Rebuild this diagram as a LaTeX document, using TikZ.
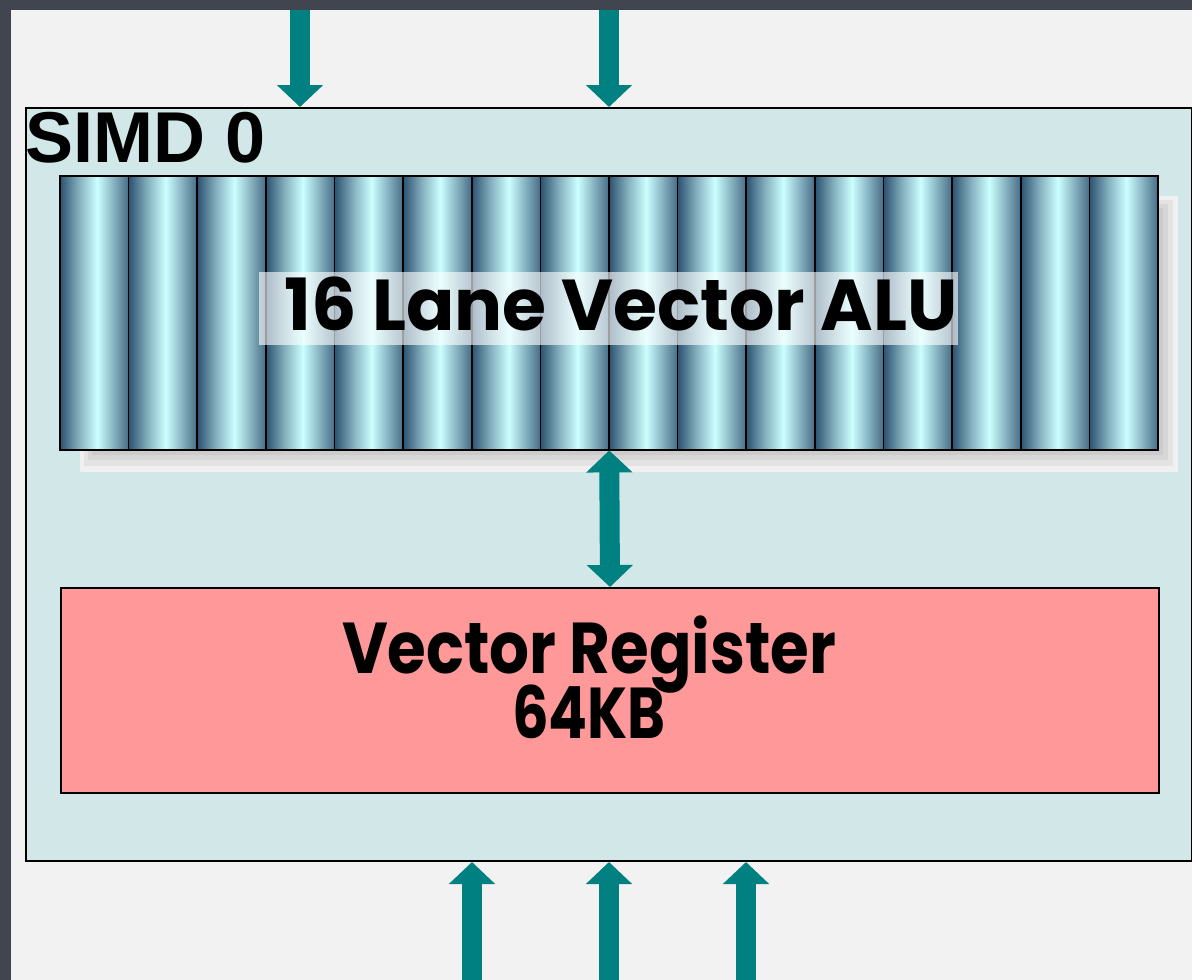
\documentclass[tikz,border=0pt]{standalone}
\usepackage{fontspec}
\newfontfamily\gothic{Poppins}
\newfontfamily\arialfont{Liberation Sans}
\usetikzlibrary{arrows.meta}
\definecolor{bgdark}{HTML}{41454F}
\definecolor{panelgray}{HTML}{F2F2F2}
\definecolor{simdfill}{HTML}{D1E7E8}
\definecolor{arrowteal}{HTML}{008080}
\definecolor{regfill}{HTML}{FF9999}
\definecolor{lanedark}{HTML}{2C5270}
\definecolor{lanemid}{HTML}{86B2C0}
\definecolor{lanelight}{HTML}{CCFFFF}
\definecolor{laneright}{HTML}{466C86}
\pgfdeclarehorizontalshading{lane}{100bp}{color(0bp)=(lanedark); color(25bp)=(lanedark); color(39bp)=(lanemid); color(52bp)=(lanelight); color(64bp)=(lanemid); color(75bp)=(laneright); color(100bp)=(laneright)}
\tikzset{
  blockarrow/.style={draw=arrowteal, line width=20pt, -{Triangle[width=45pt,length=22pt]}},
  dblarrow/.style={draw=arrowteal, line width=20pt, {Triangle[width=45pt,length=22pt]}-{Triangle[width=45pt,length=22pt]}},
  boxnode/.style={draw=black, line width=2pt, inner sep=0pt, anchor=north west},
  gothictext/.style={inner sep=0pt, anchor=base, font=\gothic\bfseries\fontsize{72}{72}\selectfont}
}
\begin{document}
\begin{tikzpicture}[x=1pt,y=-1pt]
\useasboundingbox (0,0) rectangle (1192,980);
\fill[bgdark] (0,0) rectangle (1192,980);
\fill[panelgray] (11,10) rectangle (1192,980);

% SIMD box
\node[boxnode, fill=simdfill, minimum width=1166pt, minimum height=753pt] (simd) at (25,107) {};
\node[anchor=base west, inner sep=0pt, font=\arialfont\bfseries\fontsize{72}{72}\selectfont] (simdlabel) at (25,162) {SIMD 0};

% shadow behind ALU
\fill[gray!12] (80,196) rectangle (1178,472);
\fill[gray!22] (84,200) rectangle (1173,466);
\fill[gray!32] (88,204) rectangle (1168,460);
\fill[gray!40] (92,208) rectangle (1163,455);

% ALU lanes
\node[inner sep=0pt, anchor=north west, minimum width=1098pt, minimum height=274pt] (alu) at (60,176) {};
\foreach \i in {0,...,15} {
  \pgfmathsetmacro\xa{60+\i*68.625}
  \pgfmathsetmacro\xb{60+(\i+1)*68.625}
  \shadedraw[shading=lane, draw=black, line width=1.6pt] (\xa,176) rectangle (\xb,450);
}
\node[fill=white, fill opacity=0.62, minimum width=699pt, minimum height=73pt, inner sep=0pt] (alulabel) at (608.5,308.5) {};
\node[gothictext] (alutext) at (621,330) {\scalebox{0.99}[1]{16 Lane Vector ALU}};

% Vector register
\node[boxnode, fill=regfill, minimum width=1098pt, minimum height=205pt] (reg) at (60,587) {};
\node[gothictext] (regtext) at (589,673) {\scalebox{0.87}[1]{Vector Register}};
\node[gothictext] (regsize) at (589,738) {\scalebox{0.8}[1]{64KB}};

% arrows
\coordinate (t1) at (300,10);
\coordinate (t2) at (609,10);
\draw[blockarrow] (t1) -- (t1 |- simd.north);
\draw[blockarrow] (t2) -- (t2 |- simd.north);
\draw[dblarrow] (alu.south) -- (reg.north);
\coordinate (b1) at (472,980);
\coordinate (b2) at (609,980);
\coordinate (b3) at (746,980);
\draw[blockarrow] (b1) -- (b1 |- simd.south);
\draw[blockarrow] (b2) -- (b2 |- simd.south);
\draw[blockarrow] (b3) -- (b3 |- simd.south);
\end{tikzpicture}
\end{document}
